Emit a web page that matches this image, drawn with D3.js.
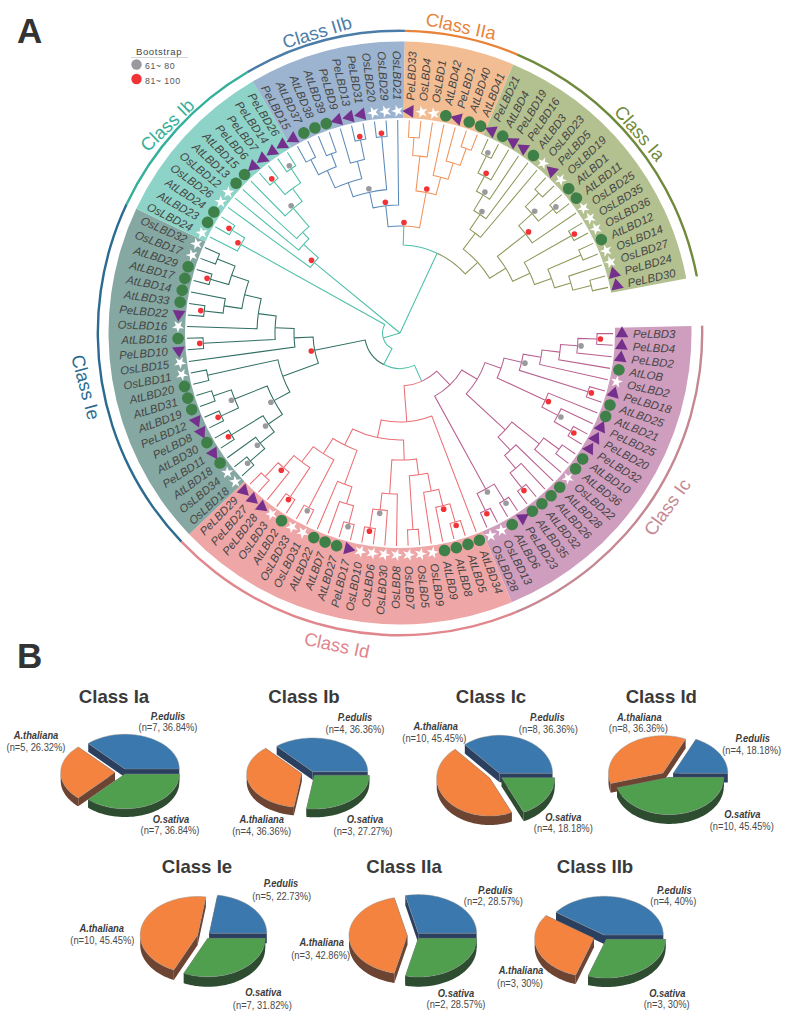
<!DOCTYPE html>
<html><head><meta charset="utf-8">
<script src="https://cdn.jsdelivr.net/npm/d3@7/dist/d3.min.js"></script>
<style>html,body{margin:0;padding:0;background:#fff}svg{display:block}text{font-family:"Liberation Sans",Arial,sans-serif}</style>
</head><body><svg id="c" width="787" height="1012"></svg>
<script>
// ---------- Panel A data: leaves clockwise, starting at the top of Class Ic
const leavesIc=["PeLBD3","PeLBD4","PeLBD2","AtLOB","OsLBD2","PeLBD18","AtLBD25","AtLBD21","PeLBD25","PeLBD20","PeLBD32","AtLBD10","AtLBD36","OsLBD22","AtLBD28","AtLBD26","AtLBD32","AtLBD35","PeLBD23","AtLBD6","OsLBD13","OsLBD28"];
const leavesId=["AtLBD34","AtLBD5","AtLBD8","AtLBD9","OsLBD9","OsLBD5","OsLBD7","OsLBD8","OsLBD30","OsLBD6","OsLBD10","PeLBD17","AtLBD27","AtLBD7","AtLBD22","OsLBD31","OsLBD33","AtLBD2","OsLBD3","PeLBD28","PeLBD27","PeLBD29"];
const leavesIe=["OsLBD18","OsLBD34","AtLBD18","PeLBD11","AtLBD30","PeLBD8","PeLBD12","AtLBD19","AtLBD31","AtLBD20","OsLBD11","OsLBD15","PeLBD10","AtLBD16","OsLBD16","PeLBD22","AtLBD33","AtLBD14","AtLBD17","AtLBD29","OsLBD17","OsLBD32"];
const leavesIb=["OsLBD24","AtLBD23","AtLBD24","OsLBD26","OsLBD12","AtLBD13","AtLBD15","PeLBD6","PeLBD7","PeLBD14","PeLBD26"];
const leavesIIb=["PeLBD15","AtLBD37","AtLBD38","AtLBD39","PeLBD9","PeLBD13","PeLBD31","OsLBD20","OsLBD29","OsLBD21"];
const leavesIIa=["PeLBD33","OsLBD4","OsLBD1","AtLBD42","PeLBD1","AtLBD40","AtLBD41"];
const leavesIa=["PeLBD21","AtLBD4","PeLBD19","PeLBD16","AtLBD3","OsLBD23","PeLBD5","OsLBD19","AtLBD1","AtLBD11","OsLBD25","OsLBD35","OsLBD36","AtLBD12","OsLBD14","OsLBD27","PeLBD24","PeLBD30"];
const classNames=["Class Ic","Class Id","Class Ie","Class Ib","Class IIb","Class IIa","Class Ia"];
const classLeaves=[leavesIc,leavesId,leavesIe,leavesIb,leavesIIb,leavesIIa,leavesIa];
const bandColors=["#cf9dbd","#eea6a6","#86a8a2","#8dd3c7","#9cb4d0","#f3bd94","#b3c08f"];
const arcColors=["#c58893","#e0868c","#2b6b90","#35b09a","#4a7ca8","#e8843a","#6f8a3c"];
const treeColors=["#b8608f","#ea6f75","#2f6e62","#4cbfa8","#5c8ab8","#f0935a","#8b9a5a"];
// Topology: * = next leaf; number after ")" = node depth, r/g = bootstrap class
const treeIc="((((((((*,*)197r,*)178g,*)161,*)143,(*,*)197r)125g,(*,(*,(*,*)197r)178g)160r)107,(((*,*)197,*)178,(*,(*,(*,*)197r)178)161)143)90,((*,*)197g,(*,*)197r)178g)72";
const treeId="(*,((((((*,*)197r,*)178r,*)161,(*,*)197)143,(*,(*,(*,*)197r)178g)161)127,((((*,*)197g,*)179,*)161,((*,*)197g,((*,*)197r,(*,(*,*)197)178r)162)143)125)107)89";
const treeIe="((((((*,*)197g,*)178g,(*,*)197r)160g,((*,*)197r,(*,*)197)178g)143g,(*,*)197)125,(*,((*,*)197r,(*,(((*,*)197r,*)178,((*,*)197r,(*,*)197)178)160)143)125)106)87r";
const treeIbA="(*,(*,*)197r)182r";
const treeIbB="(*,(*,(*,(*,((*,*)197r,(*,*)197g)180)164g)140)131)111r";
const treeIIb="(((((*,*)195,(*,*)192)178,(*,(*,*)197r)177)159,(*,*)197r)144g,*)128r";
const treeIIa="(((*,*)196,*)178,(*,(*,(*,*)196)178)161)143r";
const treeIa="((((((*,*)197g,*)178r,*)161g,*)143g,*)125,((((*,*)197,(*,*)197g)178g,*)160r,((*,*)197r,((*,*)197,(*,(*,*)197)178)161)143)124)105";
const treeAll=`((((${treeIc},${treeId})53,${treeIe})35.5,${treeIbA})17.5,${treeIbB},((${treeIIb},${treeIIa})107r,${treeIa})88)0`;
const classLabels=[[667,507,-54],[337,645,12],[86,387,75],[167,125,-44],[317,32,-17],[461,26,12],[640,133,49]];

// ---------- Panel B data
const pieTitles=["Class Ia","Class Ib","Class Ic","Class Id","Class Ie","Class IIa","Class IIb"];
const pEdulisN=[7,4,8,4,5,2,4];
const aThalianaN=[5,4,10,8,10,3,3];
const oSativaN=[7,3,4,10,7,2,3];
const species=["P.edulis","A.thaliana","O.sativa"];
const topColors=["#3a78ad","#f58340","#4f9f4f"];
const wallColors=["#2b3f5e","#6d4331","#2d4c30"];
// layout per pie: apex of each slice, radii, depth, title and label anchors
const pieLayout=[
 {apex:[[125,769],[115,772.5],[125,774]],rx:54.3,ry:34.7,d:8.3,t:[114,703],lab:[[168,719.5,168,731],[36,739,36,751],[171,822.7,170,834]]},
 {apex:[[312.7,771.7],[301.7,773.7],[314.3,775.3]],rx:55,ry:33.7,d:8.3,t:[304,703],lab:[[355,720.7,355,733.3],[261.7,823.3,261.7,835],[365,823.3,363,835]]},
 {apex:[[499.5,773.3],[489.7,778],[501.7,777.7]],rx:53,ry:38,d:9,t:[491,703],lab:[[547.3,720.7,548.3,732.7],[435.7,730,434.3,741.7],[563.3,821,563.3,832.3]]},
 {apex:[[673.3,773.3],[663,773],[669.3,777.3]],rx:54.5,ry:37.3,d:9.3,t:[661.3,703],lab:[[752.7,742,751.7,754],[639.3,721.3,638.3,731.7],[742.3,818.3,741.7,830]]},
 {apex:[[209.3,933.3],[197.7,935],[207.7,938.3]],rx:57.5,ry:38.5,d:10,t:[197,873],lab:[[281,887.3,281.7,900],[101.7,932,102.3,944.3],[263.3,995.7,262.3,1009]]},
 {apex:[[418.3,933.3],[407.3,935.5],[418.3,938.3]],rx:58.3,ry:38.7,d:9.7,t:[404,873],lab:[[495.3,894,493.3,905],[321.7,946,320.7,959.3],[456,997.3,456,1008.3]]},
 {apex:[[604,935],[594,938.3],[606.3,939.3]],rx:59.3,ry:38.7,d:9,t:[595,873],lab:[[674.3,894,673.3,905],[521,974,520,986.7],[667.3,996.7,666.7,1008.3]]}
];

// ---------- Scales and setup
const svg=d3.select("#c");
const CX=400,CY=333;
const allLeaves=classLeaves.flat();
const angleDeg=d3.scaleLinear().domain([0,allLeaves.length]).range([88.6,439.2]);
const depth=d3.scaleLinear().domain([0,215]).range([0,215]);
const rad=d=>d*Math.PI/180;
const polar=(r,a)=>[r*Math.sin(rad(a)),-r*Math.cos(rad(a))];
const classOf=[];classLeaves.forEach((l,k)=>l.forEach(()=>classOf.push(k)));

// Parse the topology
function parseTree(s){
  let i=0,leaf=0;
  function node(){
    if(s[i]==="*"){i++;return {leaf:leaf++,r:213};}
    i++;const kids=[node()];
    while(s[i]===","){i++;kids.push(node());}
    i++;
    const m=/^([0-9.]+)([rg]?)/.exec(s.slice(i));
    i+=m[0].length;
    return {children:kids,r:+m[1],boot:m[2]};
  }
  return node();
}
const root=d3.hierarchy(parseTree(treeAll));
root.eachAfter(n=>{
  if(n.data.children){
    const c=n.children;
    n.ang=(c[0].ang+c[c.length-1].ang)/2;
    const k=new Set(c.map(x=>x.cls));
    n.cls=k.size===1?[...k][0]:-1;
  }else{
    n.ang=angleDeg(n.data.leaf+.5);
    n.cls=classOf[n.data.leaf];
  }
});
const g=svg.append("g").attr("transform",`translate(${CX},${CY})`);

// Bands and outer arcs
let start=0;
const bands=classLeaves.map((l,k)=>{const o={k,a0:angleDeg(start),a1:angleDeg(start+l.length)};start+=l.length;return o;});
const bandArc=d3.arc().innerRadius(215).outerRadius(291.5);
g.append("g").selectAll("path").data(bands).join("path")
 .attr("d",d=>bandArc({startAngle:rad(d.a0),endAngle:rad(d.a1)}))
 .attr("fill",d=>bandColors[d.k]);
const ringArc=d3.arc().innerRadius(301).outerRadius(303.4);
g.append("g").selectAll("path").data(bands).join("path")
 .attr("d",d=>ringArc({startAngle:rad(d.a0),endAngle:rad(d.a1)}))
 .attr("fill",d=>arcColors[d.k]);

// Tree links: arc on the parent's depth, then a radial run to the child
function linkPath(n){
  const p=n.parent,pr=depth(p.data.r),cr=depth(n.data.r);
  const P=d3.path();
  const a0=rad(p.ang-90),a1=rad(n.ang-90);
  if(pr>0){
    P.moveTo(pr*Math.cos(a0),pr*Math.sin(a0));
    P.arc(0,0,pr,a0,a1,a1<a0);
  }else P.moveTo(0,0);
  P.lineTo(cr*Math.cos(a1),cr*Math.sin(a1));
  return P.toString();
}
g.append("g").attr("fill","none").attr("stroke-width",1.05).selectAll("path")
 .data(root.descendants().filter(n=>n.parent)).join("path")
 .attr("d",linkPath)
 .attr("stroke",n=>n.cls<0||n.cls===3?"#4cbfa8":treeColors[n.cls]);

// Bootstrap dots
g.append("g").selectAll("circle")
 .data(root.descendants().filter(n=>n.data.boot)).join("circle")
 .attr("cx",n=>polar(depth(n.data.r)+3.5,n.ang)[0])
 .attr("cy",n=>polar(depth(n.data.r)+3.5,n.ang)[1])
 .attr("r",2.8)
 .attr("fill",n=>n.data.boot==="r"?"#f23236":"#9a9a9e");

// Leaf markers and names
const leafNodes=root.leaves();
const tri=d3.symbol().type(d3.symbolTriangle).size(70)();
const star=d3.symbol().type(d3.symbolStar).size(46)();
const mk=g.append("g").selectAll("g").data(leafNodes).join("g")
 .attr("transform",n=>{const p=polar(222,n.ang);return `translate(${p[0]},${p[1]}) rotate(${n.ang-90})`;});
mk.each(function(n){
  const name=allLeaves[n.data.leaf],s=d3.select(this);
  if(name.startsWith("Pe")) s.append("path").attr("d",tri).attr("fill","#74308c");
  else if(name.startsWith("At")) s.append("circle").attr("r",5.8).attr("fill","#3f8048");
  else s.append("path").attr("d",star).attr("fill","#fff");
});
g.append("g").selectAll("text").data(leafNodes).join("text")
 .attr("transform",n=>{
   const a=((n.ang%360)+360)%360;
   return a<180?`rotate(${a-90}) translate(233,0)`:`rotate(${a+90}) translate(-233,0)`;
 })
 .attr("text-anchor",n=>(((n.ang%360)+360)%360)<180?"start":"end")
 .attr("dy","0.36em").attr("font-size",11.4).attr("font-style","italic").attr("fill","#454545")
 .text(n=>allLeaves[n.data.leaf]);

// Class labels
svg.append("g").selectAll("text").data(classNames).join("text")
 .attr("transform",(d,i)=>`translate(${classLabels[i][0]},${classLabels[i][1]}) rotate(${classLabels[i][2]})`)
 .attr("text-anchor","middle").attr("dy","0.36em").attr("font-size",18.4)
 .attr("fill",(d,i)=>arcColors[i]).text(d=>d);

// Bootstrap legend
const leg=svg.append("g");
leg.append("text").attr("x",159).attr("y",55).attr("text-anchor","middle").attr("font-size",9.5).attr("letter-spacing",.6).attr("fill","#444").text("Bootstrap");
leg.append("line").attr("x1",131).attr("x2",188).attr("y1",57.5).attr("y2",57.5).attr("stroke","#ccc").attr("stroke-width",.8);
leg.append("circle").attr("cx",136.5).attr("cy",64.5).attr("r",5.2).attr("fill","#9a9a9e");
leg.append("circle").attr("cx",136.5).attr("cy",79).attr("r",5.2).attr("fill","#f23236");
leg.append("text").attr("x",145).attr("y",69).attr("font-size",8.8).attr("letter-spacing",.5).attr("fill","#555").text("61~ 80");
leg.append("text").attr("x",145).attr("y",83.5).attr("font-size",8.8).attr("letter-spacing",.5).attr("fill","#555").text("81~ 100");

// Panel letters
svg.append("text").attr("x",17).attr("y",43).attr("font-size",35).attr("font-weight","bold").attr("fill","#333").text("A");
svg.append("text").attr("x",17).attr("y",668).attr("font-size",35).attr("font-weight","bold").attr("fill","#333").text("B");

// ---------- Pies
const pie=d3.pie().sort(null).startAngle(Math.PI/2).endAngle(Math.PI/2-2*Math.PI);
const line=d3.line();
const fmtPct=v=>(+v.toFixed(2))+"%";
pieTitles.forEach((title,i)=>{
  const L=pieLayout[i],counts=[pEdulisN[i],aThalianaN[i],oSativaN[i]],total=d3.sum(counts);
  const G=svg.append("g");
  const arcs=pie(counts).map((a,k)=>({a0:a.startAngle,a1:a.endAngle,k,ax:L.apex[k][0],ay:L.apex[k][1]}));
  const at=(s,t)=>[s.ax+L.rx*Math.sin(t),s.ay-L.ry*Math.cos(t)];
  arcs.forEach(s=>{s.key=s.ay-Math.cos((s.a0+s.a1)/2)*L.ry;});
  arcs.sort((x,y)=>x.key-y.key);
  arcs.forEach(s=>{
    const n=Math.max(8,Math.ceil(Math.abs(s.a1-s.a0)/0.03));
    const ts=d3.range(n+1).map(j=>s.a0+(s.a1-s.a0)*j/n);
    const down=p=>[p[0],p[1]+L.d];
    const ap=[s.ax,s.ay];
    [s.a0,s.a1].forEach(t=>{
      const e=at(s,t);
      G.append("path").attr("d",line([ap,e,down(e),down(ap)])+"Z").attr("fill",wallColors[s.k]);
    });
    let run=[];
    const flush=()=>{
      if(run.length>1)G.append("path").attr("d",line(run.concat(run.map(down).reverse()))+"Z").attr("fill",wallColors[s.k]);
      run=[];
    };
    ts.forEach(t=>{ if(Math.cos(t)<0.02) run.push(at(s,t)); else flush(); });
    flush();
    G.append("path").attr("d",line([ap,...ts.map(t=>at(s,t))])+"Z")
      .attr("fill",topColors[s.k]).attr("stroke","#8c8c8c").attr("stroke-width",.45);
  });
  G.append("text").attr("x",L.t[0]).attr("y",L.t[1]).attr("text-anchor","middle")
    .attr("font-size",18.6).attr("font-weight","bold").attr("fill","#3a3a3a").text(title);
  species.forEach((sp,k)=>{
    const q=L.lab[k];
    G.append("text").attr("transform",`translate(${q[0]},${q[1]}) scale(.85,1)`).attr("text-anchor","middle")
     .attr("font-size",11).attr("font-weight","bold").attr("font-style","italic").attr("fill","#3a3a3a").text(sp);
    G.append("text").attr("transform",`translate(${q[2]},${q[3]}) scale(.85,1)`).attr("text-anchor","middle")
     .attr("font-size",11).attr("fill","#4a4a4a").text(`(n=${counts[k]}, ${fmtPct(counts[k]/total*100)})`);
  });
});
</script></body></html>
